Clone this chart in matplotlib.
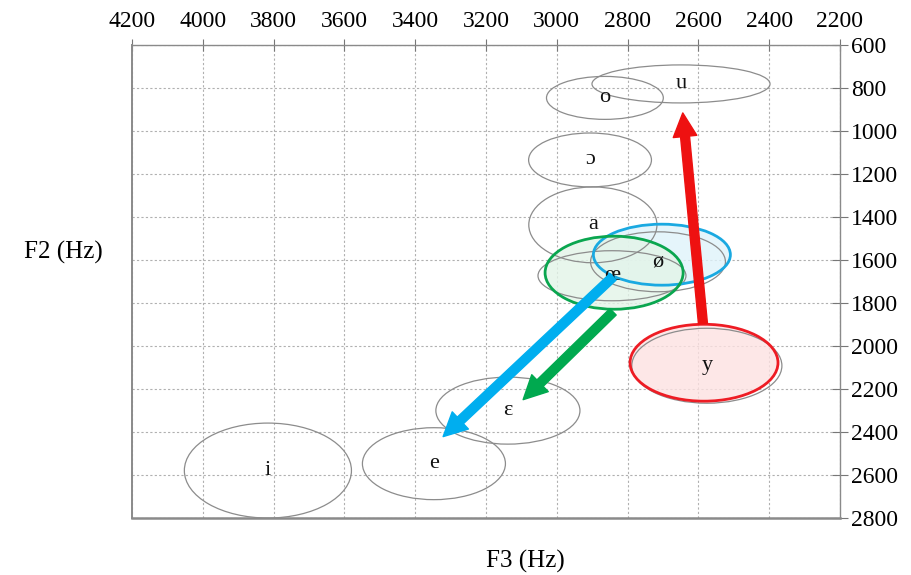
import matplotlib.pyplot as plt
from matplotlib.patches import Ellipse, FancyArrowPatch

# vowel ellipses (F3, F2 centre, width / height in Hz)
vowels = ['u', 'o', 'ɔ', 'a', 'ø', 'œ', 'y', 'ɛ', 'e', 'i']
f3_centre = [2649, 2864, 2906, 2898, 2714, 2844, 2576, 3138, 3347, 3816]
f2_centre = [779, 844, 1133, 1435, 1607, 1672, 2091, 2300, 2547, 2579]
f3_width = [503, 330, 347, 362, 381, 418, 424, 407, 404, 472]
f2_height = [177, 200, 251, 353, 279, 233, 349, 312, 335, 442]

# highlighted ellipses
hl_names = ['ø', 'œ', 'y']
hl_f3 = [2703, 2838, 2584]
hl_f2 = [1574, 1658, 2077]
hl_w = [387, 390, 418]
hl_h = [284, 340, 358]
hl_edge = ['#1aa9e1', '#0aa64f', '#ee1c24']
hl_fill = ['#dff3fb', '#e3f4e8', '#fde2e2']

# arrows: (F3 start, F2 start) -> (F3 end, F2 end)
arrow_from = [(2587, 1895), (2841, 1677), (2841, 1840)]
arrow_to = [(2644, 914), (3321, 2421), (3095, 2249)]
arrow_col = ['#ee1111', '#00aeef', '#00a94f']

x_ticks = list(range(4200, 2199, -200))
y_ticks = list(range(600, 2801, 200))

plt.rcParams['font.family'] = ['Liberation Serif', 'DejaVu Serif']

fig = plt.figure(figsize=(9.12, 5.75), dpi=100)
ax = fig.add_axes([0.1447, 0.0991, 0.7763, 0.8218])

for n, x, y, w, h in zip(vowels, f3_centre, f2_centre, f3_width, f2_height):
    ax.add_patch(Ellipse((x, y), w, h, facecolor='none', edgecolor='#8c8c8c',
                         linewidth=0.9, zorder=3))

for n, x, y, w, h, ec, fc in zip(hl_names, hl_f3, hl_f2, hl_w, hl_h, hl_edge, hl_fill):
    ax.add_patch(Ellipse((x, y), w, h, facecolor=fc, edgecolor='none',
                         alpha=0.8, zorder=2))
    ax.add_patch(Ellipse((x, y), w, h, facecolor='none', edgecolor=ec,
                         linewidth=2.0, zorder=4))

for n, x, y in zip(vowels, f3_centre, f2_centre):
    ax.text(x, y, n, fontsize=16, ha='center', va='center', color='#111111', zorder=5)

for (x0, y0), (x1, y1), c in zip(arrow_from, arrow_to, arrow_col):
    arr = FancyArrowPatch((x0, y0), (x1, y1),
                          arrowstyle='simple,head_length=1.0,head_width=1.0,tail_width=0.38',
                          mutation_scale=17, color=c, shrinkA=0, shrinkB=0, zorder=6)
    ax.add_patch(arr)

ax.set_xlim(4200, 2200)
ax.set_ylim(2800, 600)
ax.set_xticks(x_ticks)
ax.set_yticks(y_ticks)
ax.xaxis.tick_top()
ax.yaxis.tick_right()
ax.tick_params(axis='x', direction='inout', length=8, width=0.8, color='#777777',
               pad=6, labelsize=17)
ax.tick_params(axis='y', direction='inout', length=12, width=0.8, color='#777777',
               pad=2, labelsize=17)
ax.grid(True, linestyle=(0, (2, 2)), color='#b0b0b0', linewidth=0.8)
ax.set_axisbelow(True)

for side, sp in ax.spines.items():
    sp.set_color('#8a8a8a')
    sp.set_linestyle((0, (2, 1)))
    sp.set_linewidth(1.0)
ax.spines['bottom'].set_linewidth(1.8)
ax.spines['left'].set_linewidth(1.4)

fig.text(0.069, 0.561, 'F2 (Hz)', fontsize=18, ha='center', va='center')
fig.text(0.576, 0.023, 'F3 (Hz)', fontsize=18, ha='center', va='center')

fig.savefig('out.png', dpi=100)
